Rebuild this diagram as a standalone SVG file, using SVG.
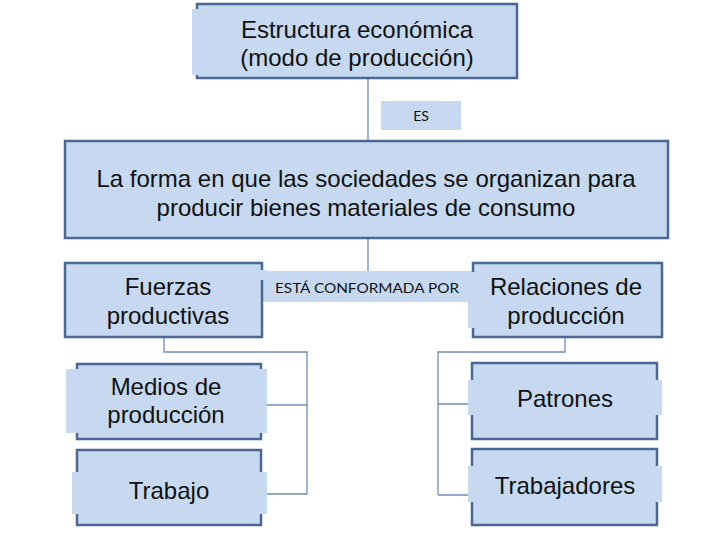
<svg xmlns="http://www.w3.org/2000/svg" width="728" height="546" viewBox="0 0 728 546">
<style>
.box{fill:#C6D9F1;stroke:#4A6893;stroke-width:2.5}
.ov{fill:#C6D9F1}
.lbl{fill:#C6D9F1}
.t{font-family:"Liberation Sans",Arial,sans-serif;font-size:24px;fill:#111;text-anchor:middle}
.s{font-family:Lato,"Open Sans",sans-serif;font-size:14px;fill:#111;text-anchor:middle}
.c{fill:none;stroke:#6F8DBA;stroke-width:1.3}
</style>
<rect width="728" height="546" fill="#fff"/>
<g id="connectors">
<path class="c" d="M368 78V141M368 238V272"/>
<path class="c" d="M164 337V352H307V494M262 405H307M262 494H307"/>
<path class="c" d="M565 337V352H438V495M438 404H472M438 495H472"/>
</g>
<g id="label-es">
<rect class="lbl" x="381" y="101" width="80" height="29"/>
<text class="s" x="421" y="121">ES</text>
</g>
<g id="label-conformada">
<rect class="lbl" x="263" y="271" width="210" height="31"/>
<text class="s" x="367" y="293" textLength="184" lengthAdjust="spacingAndGlyphs">ESTÁ CONFORMADA POR</text>
</g>
<g id="estructura">
<rect class="box" x="197" y="4" width="320" height="74"/>
<rect class="ov" x="192" y="9" width="300" height="66"/>
<text class="t" x="357" y="38">Estructura económica</text>
<text class="t" x="357" y="66">(modo de producción)</text>
</g>
<g id="forma">
<rect class="box" x="65" y="141" width="603" height="97"/>
<text class="t" x="366" y="187">La forma en que las sociedades se organizan para</text>
<text class="t" x="366" y="216">producir bienes materiales de consumo</text>
</g>
<g id="fuerzas">
<rect class="box" x="65" y="263" width="197" height="74"/>
<rect class="ov" x="255" y="270" width="12" height="10"/>
<text class="t" x="168" y="295">Fuerzas</text>
<text class="t" x="168" y="324">productivas</text>
</g>
<g id="relaciones">
<rect class="box" x="473" y="263" width="189" height="74"/>
<rect class="ov" x="468" y="272" width="12" height="56"/>
<text class="t" x="566" y="295">Relaciones de</text>
<text class="t" x="566" y="324">producción</text>
</g>
<g id="medios">
<rect class="box" x="77" y="364" width="184" height="75"/>
<rect class="ov" x="66" y="369" width="201" height="64"/>
<text class="t" x="166" y="395">Medios de</text>
<text class="t" x="166" y="423">producción</text>
</g>
<g id="trabajo">
<rect class="box" x="77" y="450" width="184" height="75"/>
<rect class="ov" x="72" y="472" width="195" height="42"/>
<text class="t" x="169" y="499">Trabajo</text>
</g>
<g id="patrones">
<rect class="box" x="472" y="363" width="185" height="76"/>
<rect class="ov" x="468" y="380" width="194" height="35"/>
<text class="t" x="565" y="407">Patrones</text>
</g>
<g id="trabajadores">
<rect class="box" x="472" y="449" width="185" height="76"/>
<rect class="ov" x="468" y="466" width="194" height="36"/>
<text class="t" x="565" y="494">Trabajadores</text>
</g>
</svg>
